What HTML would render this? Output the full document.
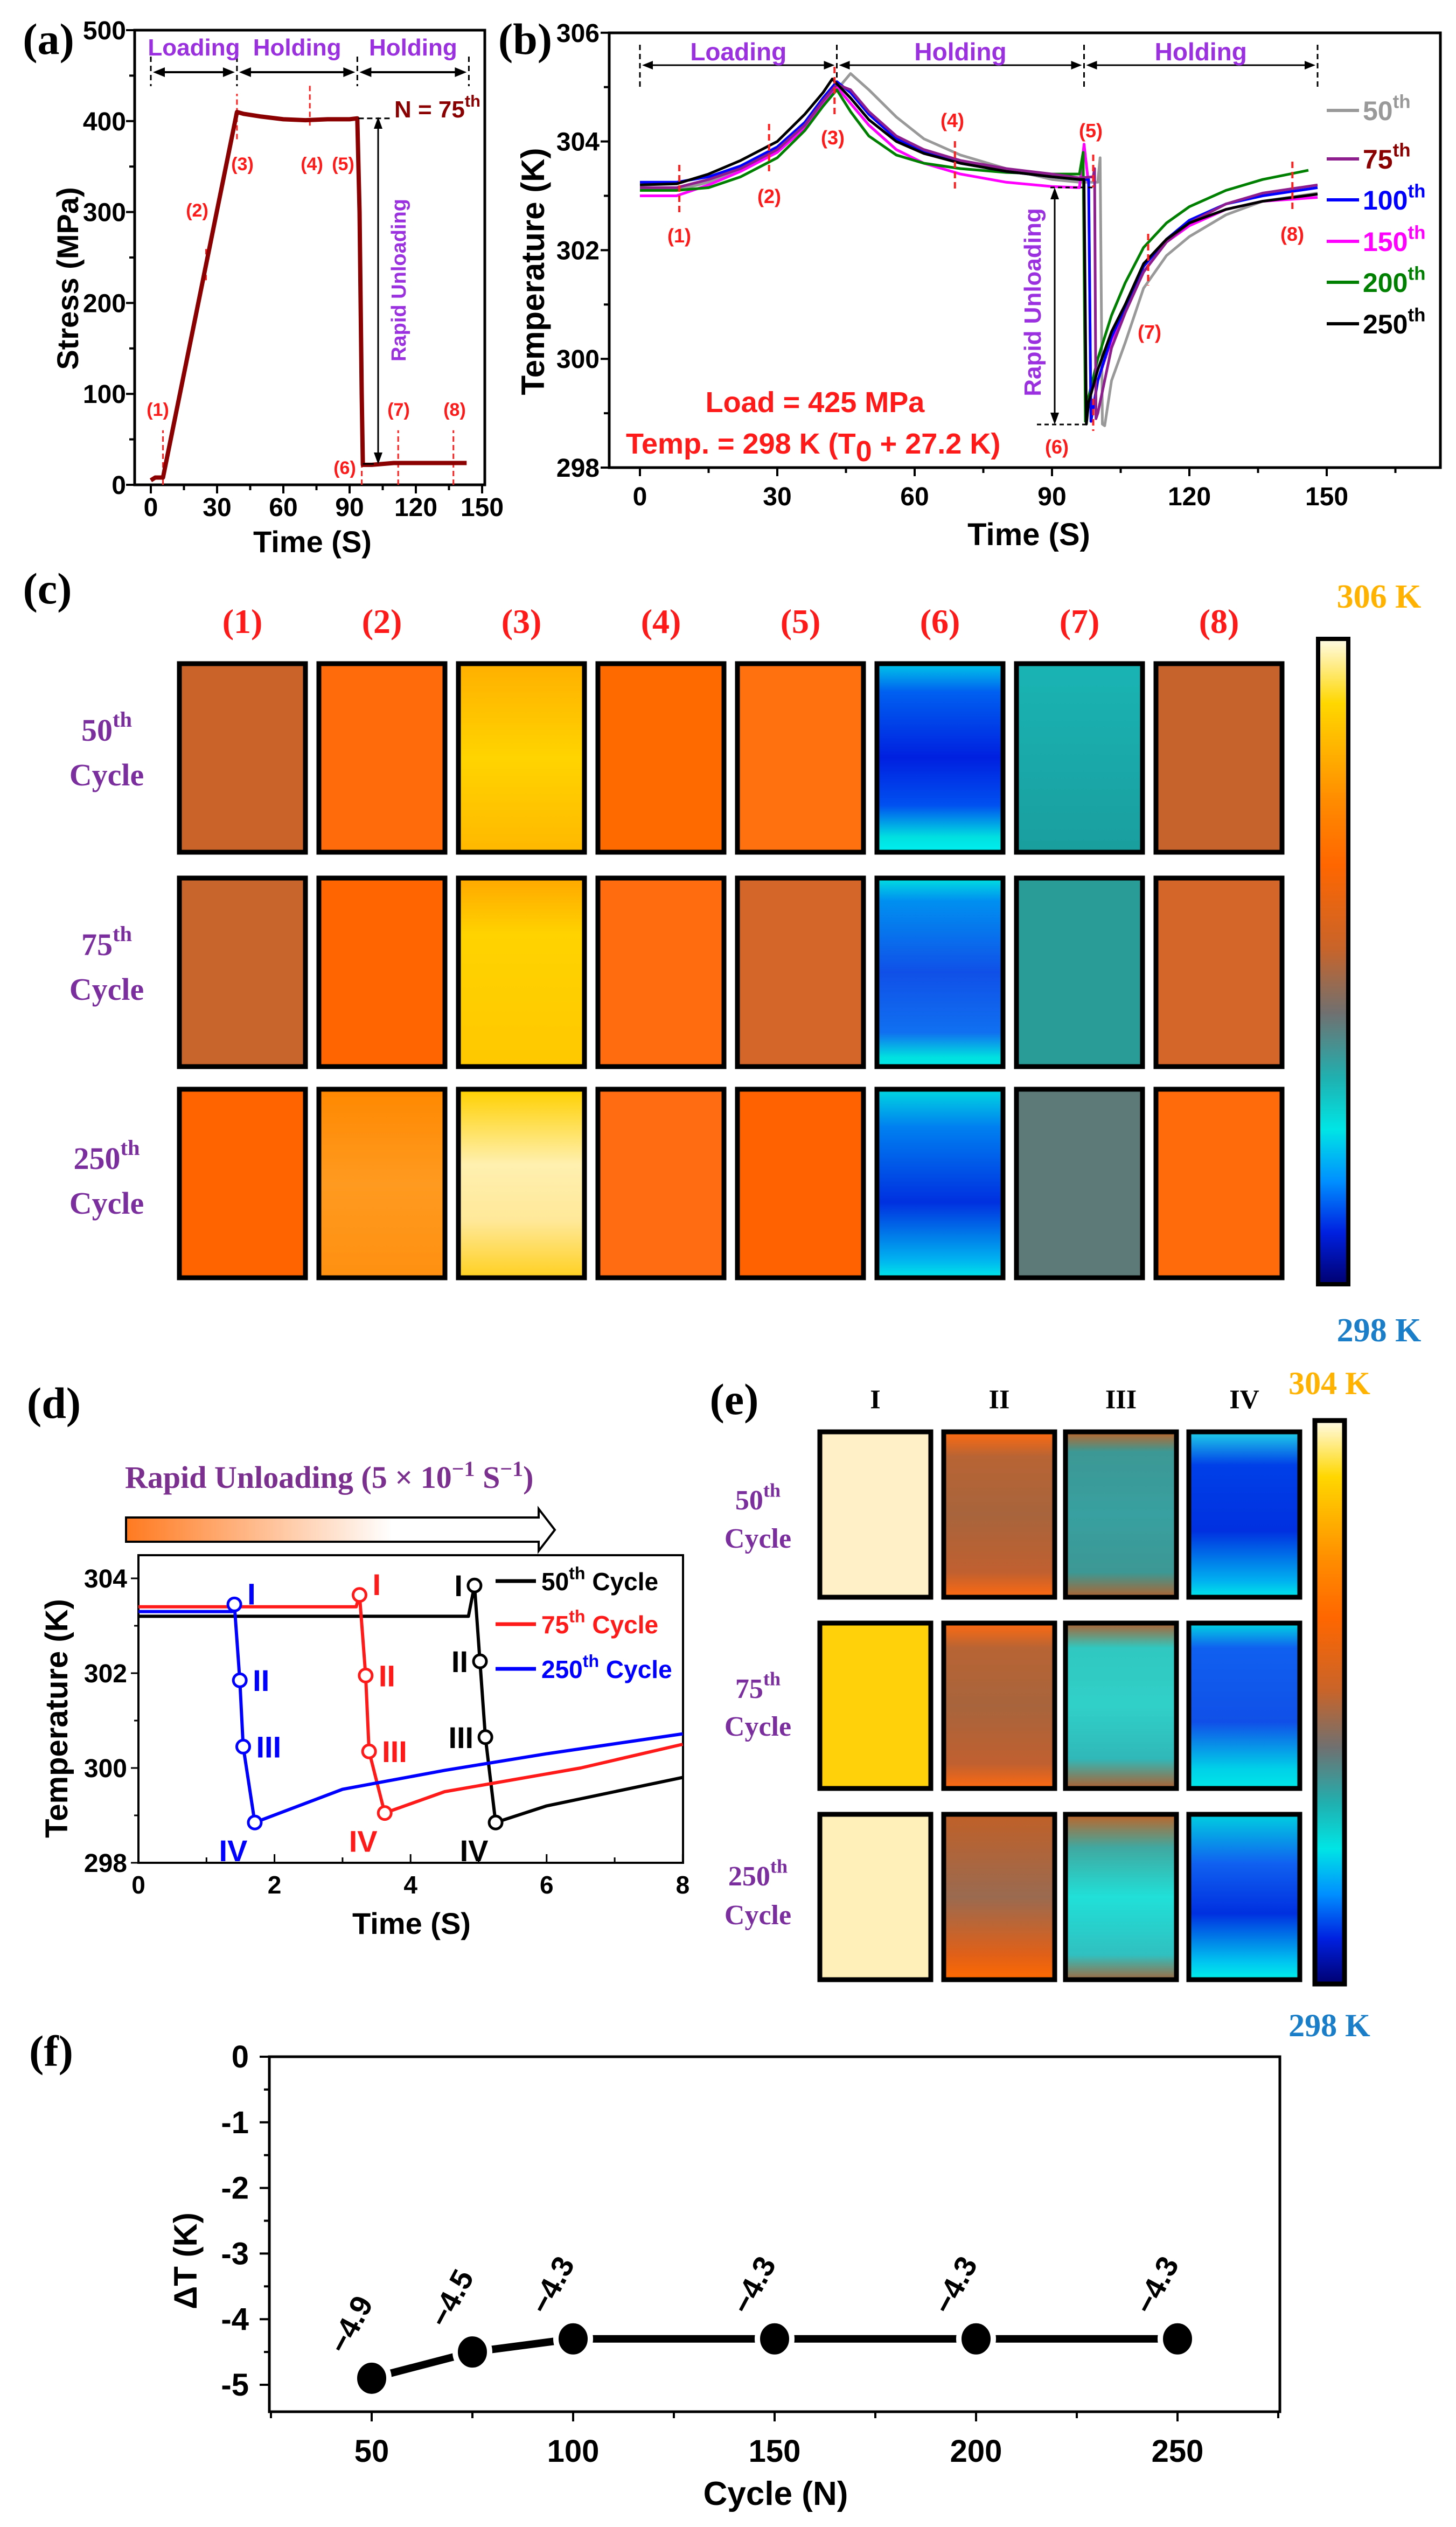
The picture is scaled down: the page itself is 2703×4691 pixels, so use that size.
<!DOCTYPE html>
<html><head><meta charset="utf-8"><title>Figure</title>
<style>
html,body{margin:0;padding:0;background:#fff;}
svg{display:block;}
.ax{font-family:"Liberation Sans",Arial,sans-serif;font-weight:bold;}
.tm{font-family:"Liberation Serif","Times New Roman",serif;font-weight:bold;}
</style></head>
<body>
<svg id="fig" xmlns="http://www.w3.org/2000/svg" width="2703" height="4691" viewBox="0 0 2703 4691">
<defs>
<linearGradient id="cbar" x1="0" y1="0" x2="0" y2="1">
<stop offset="0" stop-color="#fffbe6"/><stop offset="0.1" stop-color="#ffd700"/><stop offset="0.25" stop-color="#ff8c00"/><stop offset="0.35" stop-color="#ff6600"/><stop offset="0.48" stop-color="#c8642a"/><stop offset="0.58" stop-color="#707070"/><stop offset="0.68" stop-color="#20b0b0"/><stop offset="0.76" stop-color="#00e5e5"/><stop offset="0.84" stop-color="#0090ff"/><stop offset="0.92" stop-color="#0020e0"/><stop offset="1" stop-color="#000070"/>
</linearGradient>
<linearGradient id="arrowGrad" x1="0" y1="0" x2="1" y2="0">
<stop offset="0" stop-color="#ff7a20"/><stop offset="0.62" stop-color="#ffffff"/><stop offset="1" stop-color="#ffffff"/>
</linearGradient>
</defs>

<!-- Panel labels -->
<text class="tm" x="90" y="100" font-size="82" text-anchor="middle">(a)</text>
<text class="tm" x="975" y="100" font-size="82" text-anchor="middle">(b)</text>
<text class="tm" x="88" y="1120" font-size="82" text-anchor="middle">(c)</text>
<text class="tm" x="100" y="2632" font-size="82" text-anchor="middle">(d)</text>
<text class="tm" x="1363" y="2625" font-size="82" text-anchor="middle">(e)</text>
<text class="tm" x="95" y="3835" font-size="82" text-anchor="middle">(f)</text>

<g id="pa"></g>
<g id="pb"></g>
<g id="pc"></g>
<g id="pd"></g>
<g id="pe"></g>
<g id="pf"></g>
</svg>

<script>
// ---------- data (a) ----------
const stressTime = [0,2,4,5.5,10,20,30,39,42,50,60,70,80,90,93.5,94.5,95.5,96,100,110,120,130,143];
const stressVal  = [5,8,8,8,62,182,302,410,408,405,402,401,402,402,403,300,100,22,22,24,24,24,24];
const aXTicks = [0,30,60,90,120,150];
const aYTicks = [0,100,200,300,400,500];
// ---------- data (b) ----------
const t50  = [0,8,15,22,30,36,40,43,46,50,56,62,70,80,90,96,100,100.5,101,101.5,103,106,110,115,120,128,136,148];
const v50  = [303.1,303.1,303.25,303.5,303.85,304.3,304.7,304.95,305.25,304.95,304.45,304.05,303.75,303.5,303.3,303.25,303.25,303.7,298.8,298.77,299.6,300.3,301.3,301.9,302.25,302.65,302.9,303.05];
const t75  = [0,8,15,22,30,36,40,43,46,50,56,62,70,80,90,96,99,99.3,99.6,100,103,106,110,115,120,128,136,148];
const v75  = [303.15,303.15,303.3,303.5,303.85,304.3,304.75,305.05,304.95,304.55,304.1,303.85,303.65,303.5,303.4,303.33,303.35,303.5,298.9,299.0,300.2,300.85,301.6,302.15,302.5,302.85,303.05,303.2];
const t100 = [0,8,15,22,30,36,40,43,46,50,56,62,70,80,90,96,98,98.5,99,100,103,106,110,115,120,128,136,148];
const v100 = [303.25,303.25,303.35,303.55,303.9,304.35,304.8,305.1,304.9,304.5,304.05,303.8,303.6,303.45,303.35,303.3,303.3,298.85,299.1,299.6,300.4,300.95,301.7,302.2,302.55,302.85,303.0,303.15];
const t150 = [0,8,15,22,30,36,40,43,46,50,56,62,70,80,90,96,97,98,98.5,99,100,103,106,110,115,120,128,136,148];
const v150 = [303.0,303.0,303.2,303.45,303.8,304.25,304.7,305.0,304.7,304.3,303.85,303.6,303.4,303.25,303.17,303.15,303.95,303.2,298.9,299.1,299.6,300.35,300.9,301.6,302.15,302.45,302.75,302.9,302.97];
const t200 = [0,8,15,22,30,36,40,43,46,50,56,62,70,80,90,96,96.8,97.3,98,100,103,106,110,115,120,128,136,146];
const v200 = [303.1,303.1,303.15,303.35,303.7,304.2,304.65,304.95,304.55,304.1,303.75,303.6,303.5,303.43,303.4,303.4,303.8,298.85,299.3,300.0,300.8,301.4,302.05,302.5,302.8,303.1,303.3,303.47];
const t250 = [0,8,15,22,30,36,40,42,46,50,56,62,70,80,90,96,97,97.5,98,100,103,106,110,115,120,128,136,148];
const v250 = [303.2,303.22,303.4,303.65,304.0,304.5,304.9,305.15,304.8,304.4,304.0,303.78,303.6,303.45,303.35,303.3,303.3,298.8,299.2,299.8,300.5,301.0,301.75,302.2,302.5,302.75,302.9,303.03];
const bXTicks = [0,30,60,90,120,150];
const bYTicks = [298,300,302,304,306];
const bSeriesNames = ["50th","75th","100th","150th","200th","250th"];
// ---------- data (d) ----------
const dT50  = [0,4.85,4.94,5.02,5.1,5.25,6,7,8];
const dV50  = [303.2,303.2,303.85,302.25,300.65,298.85,299.2,299.5,299.8];
const dT75  = [0,3.2,3.25,3.34,3.39,3.62,4.5,5.5,6.5,8];
const dV75  = [303.4,303.4,303.65,301.95,300.35,299.05,299.5,299.75,300.0,300.5];
const dT250 = [0,1.38,1.41,1.49,1.54,1.71,3,4.5,6,8];
const dV250 = [303.3,303.3,303.45,301.85,300.45,298.85,299.55,299.95,300.3,300.72];
const dXTicks = [0,2,4,6,8];
const dYTicks = [298,300,302,304];
const stageLabels = ["I","II","III","IV"];
// ---------- data (f) ----------
const fCycles = [50,75,100,150,200,250];
const fDeltaT = [-4.9,-4.5,-4.3,-4.3,-4.3,-4.3];
const fXTicks = [50,100,150,200,250];
const fYTicks = [0,-1,-2,-3,-4,-5];

const NS = "http://www.w3.org/2000/svg";
function mk(parent, tag, attrs, txt){
  const e = document.createElementNS(NS, tag);
  for (const k in attrs) e.setAttribute(k, attrs[k]);
  if (txt !== undefined) e.textContent = txt;
  parent.appendChild(e);
  return e;
}
function pathFrom(xs, ys, fx, fy){
  let d = "";
  for (let i=0;i<xs.length;i++) d += (i?"L":"M") + fx(xs[i]).toFixed(1) + "," + fy(ys[i]).toFixed(1);
  return d;
}
function sup(el, base, s, fs){
  const t1 = document.createElementNS(NS,"tspan"); t1.textContent = base; el.appendChild(t1);
  const t2 = document.createElementNS(NS,"tspan"); t2.textContent = s;
  t2.setAttribute("dy", -fs*0.45); t2.setAttribute("font-size", fs*0.7); el.appendChild(t2);
}

// ================= Panel (a) =================
(function(){
  const g = document.getElementById("pa");
  const xa = t => 280 + t*4.1;
  const ya = s => 900 - s*1.688;
  let e;
  e = mk(g,"rect",{x:250,y:56,width:650,height:844,fill:"none",stroke:"#000","stroke-width":5});
  
  
  for (const t of aXTicks){
    e = mk(g,"line",{x1:xa(t),y1:900,x2:xa(t),y2:916,stroke:"#000","stroke-width":4});
    
    
    e = mk(g,"text",{x:xa(t),y:958,"font-size":48,"text-anchor":"middle",class:"ax"},String(t));
    
    
    if (t<150){
      e = mk(g,"line",{x1:xa(t+15),y1:900,x2:xa(t+15),y2:910,stroke:"#000","stroke-width":4});
      
      
    }
  }
  for (const s of aYTicks){
    e = mk(g,"line",{x1:234,y1:ya(s),x2:250,y2:ya(s),stroke:"#000","stroke-width":4});
    
    
    e = mk(g,"text",{x:234,y:ya(s)+17,"font-size":48,"text-anchor":"end",class:"ax"},String(s));
    
    
    if (s<500){
      e = mk(g,"line",{x1:240,y1:ya(s+50),x2:250,y2:ya(s+50),stroke:"#000","stroke-width":4});
      
      
    }
  }
  e = mk(g,"text",{x:580,y:1025,"font-size":56,"text-anchor":"middle",class:"ax"},"Time (S)");
  
  
  e = mk(g,"text",{x:0,y:0,"font-size":56,"text-anchor":"middle",class:"ax",transform:"translate(145,517) rotate(-90)"},"Stress (MPa)");
  
  
  // phases
  const phaseT = [0,39,93.5,144];
  const phaseN = ["Loading","Holding","Holding"];
  for (let i=0;i<phaseT.length;i++){
    e = mk(g,"line",{x1:xa(phaseT[i]),y1:105,x2:xa(phaseT[i]),y2:160,stroke:"#000","stroke-width":3,"stroke-dasharray":"10,7"});
    
    
  }
  for (let i=0;i<3;i++){
    const x1 = xa(phaseT[i])+4, x2 = xa(phaseT[i+1])-4;
    e = mk(g,"line",{x1:x1+14,y1:134,x2:x2-14,y2:134,stroke:"#000","stroke-width":4});
    
    
    e = mk(g,"path",{d:`M${x1},134 l22,-9 v18 z M${x2},134 l-22,-9 v18 z`,fill:"#000"});
    
    
    e = mk(g,"text",{x:(xa(phaseT[i])+xa(phaseT[i+1]))/2,y:103,"font-size":44,"text-anchor":"middle",class:"ax",fill:"#9b30e0"},phaseN[i]);
    
    
  }
  // marker lines
  const mkT = [5.5,25,39,72,93.5,95.5,112,137];
  const mkY = [[0,60],[225,260],[380,430],[395,440],[0,0],[0,30],[0,60],[0,60]];
  for (let i=0;i<mkT.length;i++){
    if (mkY[i][1]===0) continue;
    e = mk(g,"line",{x1:xa(mkT[i]),y1:ya(mkY[i][0]),x2:xa(mkT[i]),y2:ya(mkY[i][1]),stroke:"#ff2020","stroke-width":3,"stroke-dasharray":"10,6"});
    
    
  }
  e = mk(g,"path",{d:pathFrom(stressTime,stressVal,xa,ya),fill:"none",stroke:"#8b0000","stroke-width":8,"stroke-linejoin":"round"});
  
  
  const lbl = [["(1)",293,772],["(2)",366,402],["(3)",450,316],["(4)",579,316],["(5)",637,316],["(6)",640,880],["(7)",740,772],["(8)",844,772]];
  for (const L of lbl){
    e = mk(g,"text",{x:L[1],y:L[2],"font-size":34,"text-anchor":"middle",class:"ax",fill:"#ff1a1a"},L[0]);
    
    
  }
  e = mk(g,"line",{x1:xa(94),y1:ya(403),x2:725,y2:ya(403),stroke:"#000","stroke-width":3,"stroke-dasharray":"10,6"});
  
  
  e = mk(g,"line",{x1:xa(96),y1:ya(23),x2:xa(101),y2:ya(23),stroke:"#000","stroke-width":3});
  
  
  e = mk(g,"line",{x1:702,y1:235,x2:702,y2:845,stroke:"#000","stroke-width":3});
  
  
  e = mk(g,"path",{d:"M702,217 l-8,22 h16 z M702,862 l-8,-22 h16 z",fill:"#000"});
  
  
  e = mk(g,"text",{x:732,y:218,"font-size":44,class:"ax",fill:"#8b0000"});
  sup(e,"N = 75","th",44);
  
  
  e = mk(g,"text",{x:0,y:0,"font-size":38,"text-anchor":"middle",class:"ax",fill:"#9b30e0",transform:"translate(753,520) rotate(-90)"},"Rapid Unloading");
  
  
})();

// ================= Panel (b) =================
(function(){
  const g = document.getElementById("pb");
  const xb = t => 1188 + t*8.5;
  const yb = T => 868 - (T-298)*100.9;
  let e;
  e = mk(g,"rect",{x:1131,y:61,width:1543,height:807,fill:"none",stroke:"#000","stroke-width":5});
  
  
  for (const t of bXTicks){
    e = mk(g,"line",{x1:xb(t),y1:868,x2:xb(t),y2:884,stroke:"#000","stroke-width":4});
    
    
    e = mk(g,"text",{x:xb(t),y:938,"font-size":48,"text-anchor":"middle",class:"ax"},String(t));
    
    
    e = mk(g,"line",{x1:xb(t+15),y1:868,x2:xb(t+15),y2:878,stroke:"#000","stroke-width":4});
    
    
  }
  for (const T of bYTicks){
    e = mk(g,"line",{x1:1115,y1:yb(T),x2:1131,y2:yb(T),stroke:"#000","stroke-width":4});
    
    
    e = mk(g,"text",{x:1113,y:yb(T)+17,"font-size":48,"text-anchor":"end",class:"ax"},String(T));
    
    
    if (T<306){
      e = mk(g,"line",{x1:1121,y1:yb(T+1),x2:1131,y2:yb(T+1),stroke:"#000","stroke-width":4});
      
      
    }
  }
  e = mk(g,"text",{x:1910,y:1012,"font-size":58,"text-anchor":"middle",class:"ax"},"Time (S)");
  
  
  e = mk(g,"text",{x:0,y:0,"font-size":60,"text-anchor":"middle",class:"ax",transform:"translate(1010,504) rotate(-90)"},"Temperature (K)");
  
  
  const phaseT = [0,43,97,148];
  const phaseN = ["Loading","Holding","Holding"];
  for (let i=0;i<phaseT.length;i++){
    e = mk(g,"line",{x1:xb(phaseT[i]),y1:83,x2:xb(phaseT[i]),y2:163,stroke:"#000","stroke-width":3,"stroke-dasharray":"10,7"});
    
    
  }
  for (let i=0;i<3;i++){
    const x1 = xb(phaseT[i])+4, x2 = xb(phaseT[i+1])-4;
    e = mk(g,"line",{x1:x1+14,y1:121,x2:x2-14,y2:121,stroke:"#000","stroke-width":3});
    
    
    e = mk(g,"path",{d:`M${x1},121 l20,-8 v16 z M${x2},121 l-20,-8 v16 z`,fill:"#000"});
    
    
    e = mk(g,"text",{x:(xb(phaseT[i])+xb(phaseT[i+1]))/2,y:112,"font-size":46,"text-anchor":"middle",class:"ax",fill:"#9b30e0"},phaseN[i]);
    
    
  }
  const series = [[t50,v50,"#999999"],[t75,v75,"#8e1d8e"],[t100,v100,"#0000ff"],[t150,v150,"#ff00ff"],[t200,v200,"#008000"],[t250,v250,"#000000"]];
  const order = [0,3,4,2,1,5];
  for (const i of order){
    e = mk(g,"path",{d:pathFrom(series[i][0],series[i][1],xb,yb),fill:"none",stroke:series[i][2],"stroke-width":5,"stroke-linejoin":"round"});
    
    
  }
  // markers
  const mkT = [8.6,28.2,42.5,68.8,99,99,111,142.5];
  const mkY = [[306,396],[230,322],[124,214],[262,351],[287,348],[740,800],[434,530],[300,389]];
  for (let i=0;i<mkT.length;i++){
    e = mk(g,"line",{x1:xb(mkT[i]),y1:mkY[i][0],x2:xb(mkT[i]),y2:mkY[i][1],stroke:"#ff2020","stroke-width":4,"stroke-dasharray":"12,7"});
    
    
  }
  const lbl = [["(1)",1261,450],["(2)",1428,377],["(3)",1546,268],["(4)",1768,236],["(5)",2025,255],["(6)",1962,842],["(7)",2134,629],["(8)",2399,447]];
  for (const L of lbl){
    e = mk(g,"text",{x:L[1],y:L[2],"font-size":36,"text-anchor":"middle",class:"ax",fill:"#ff1a1a"},L[0]);
    
    
  }
  // legend
  const lc = ["#999999","#8e1d8e","#0000ff","#ff00ff","#008000","#000000"];
  const tc = ["#999999","#8b0000","#0000ff","#ff00ff","#008000","#000000"];
  const ly = [205,295,371,448,524,601];
  for (let i=0;i<6;i++){
    e = mk(g,"line",{x1:2463,y1:ly[i],x2:2523,y2:ly[i],stroke:lc[i],"stroke-width":6});
    
    
    e = mk(g,"text",{x:2530,y:ly[i]+18,"font-size":50,class:"ax",fill:tc[i]});
    sup(e,bSeriesNames[i].replace("th",""),"th",50);
    
    
  }
  e = mk(g,"text",{x:1513,y:765,"font-size":54,"text-anchor":"middle",class:"ax",fill:"#ff1a1a"},"Load = 425 MPa");
  
  
  e = mk(g,"text",{x:1162,y:842,"font-size":54,class:"ax",fill:"#ff1a1a"});
  const a1 = document.createElementNS(NS,"tspan"); a1.textContent="Temp. = 298 K (T"; e.appendChild(a1);
  const a2 = document.createElementNS(NS,"tspan"); a2.textContent="0"; a2.setAttribute("dy","14"); e.appendChild(a2);
  const a3 = document.createElementNS(NS,"tspan"); a3.textContent=" + 27.2 K)"; a3.setAttribute("dy","-14"); e.appendChild(a3);
  
  
  e = mk(g,"text",{x:0,y:0,"font-size":44,"text-anchor":"middle",class:"ax",fill:"#9b30e0",transform:"translate(1932,561) rotate(-90)"},"Rapid Unloading");
  
  
  e = mk(g,"line",{x1:1958,y1:366,x2:1958,y2:770,stroke:"#000","stroke-width":3});
  
  
  e = mk(g,"path",{d:"M1958,348 l-8,22 h16 z M1958,788 l-8,-22 h16 z",fill:"#000"});
  
  
  e = mk(g,"path",{d:"M1950,348 H2030 M1925,788 H2020",stroke:"#000","stroke-width":3,"stroke-dasharray":"8,6",fill:"none"});
  
  
})();

// ================= Heatmap helpers =================
let gradId = 0;
function cell(g, x, y, w, h, stops, name){
  let fill;
  if (typeof stops === "string") fill = stops;
  else {
    const id = "cg"+(gradId++);
    const defs = document.querySelector("defs");
    const lg = mk(defs,"linearGradient",{id:id,x1:0,y1:0,x2:0,y2:1});
    for (const s of stops) mk(lg,"stop",{offset:s[0],"stop-color":s[1]});
    fill = "url(#"+id+")";
  }
  const e = mk(g,"rect",{x:x,y:y,width:w,height:h,fill:fill,stroke:"#000","stroke-width":9});
  
  
}

// ================= Panel (c) =================
(function(){
  const g = document.getElementById("pc");
  let e;
  const cx = [333,592,851,1110,1369,1628,1887,2146];
  const ry = [1232,1630,2022];
  const colLbl = ["(1)","(2)","(3)","(4)","(5)","(6)","(7)","(8)"];
  for (let i=0;i<8;i++){
    e = mk(g,"text",{x:cx[i]+117,y:1175,"font-size":64,"text-anchor":"middle",class:"tm",fill:"#ff1a1a"},colLbl[i]);
    
    
  }
  const rowN = ["50","75","250"];
  const rowY = [[1375,1458],[1773,1856],[2170,2253]];
  for (let r=0;r<3;r++){
    e = mk(g,"text",{x:198,y:rowY[r][0],"font-size":58,"text-anchor":"middle",class:"tm",fill:"#7b2f9e"});
    sup(e,rowN[r],"th",58);
    
    
    e = mk(g,"text",{x:198,y:rowY[r][1],"font-size":58,"text-anchor":"middle",class:"tm",fill:"#7b2f9e"},"Cycle");
    
    
  }
  const blue1 = [[0,"#00c8e8"],[0.15,"#0060f0"],[0.5,"#0020e0"],[0.75,"#0050f0"],[0.92,"#00e0e0"],[1,"#00f0f0"]];
  const blue2 = [[0,"#00e0e0"],[0.12,"#0090f0"],[0.5,"#1050e8"],[0.82,"#1070f0"],[0.95,"#00e0e0"],[1,"#00e8e8"]];
  const blue3 = [[0,"#00d8e0"],[0.2,"#0080f0"],[0.6,"#0030e0"],[0.9,"#00b0f0"],[1,"#00e8e8"]];
  const cols = [
    ["#c9632a","#ff6a0a",[[0,"#ffb000"],[0.5,"#ffd400"],[1,"#ffb800"]],"#ff6a00","#ff700e",blue1,[[0,"#1ab4b4"],[1,"#1a9e9e"]],"#c6622c"],
    ["#c8652c","#ff6500",[[0,"#ffa800"],[0.3,"#ffd300"],[1,"#ffc800"]],"#ff6c10","#d4662a",blue2,"#2a9c98","#d4662a"],
    ["#ff6400",[[0,"#ff8800"],[0.5,"#ff9a20"],[1,"#ff9010"]],[[0,"#ffd000"],[0.4,"#fff0b0"],[0.7,"#ffe898"],[1,"#ffd020"]],"#ff6c12","#ff6200",blue3,"#5e7a78","#ff6a0a"]
  ];
  for (let r=0;r<3;r++) for (let c=0;c<8;c++) cell(g,cx[c],ry[r],234,350,cols[r][c],"thermal-image-c-r"+(r+1)+"-s"+(c+1));
  e = mk(g,"rect",{x:2447,y:1186,width:56,height:1198,fill:"url(#cbar)",stroke:"#000","stroke-width":8});
  
  
  e = mk(g,"text",{x:2560,y:1128,"font-size":62,"text-anchor":"middle",class:"tm",fill:"#ffb300"},"306 K");
  
  
  e = mk(g,"text",{x:2560,y:2490,"font-size":62,"text-anchor":"middle",class:"tm",fill:"#1a7ec8"},"298 K");
  
  
})();

// ================= Panel (d) =================
(function(){
  const g = document.getElementById("pd");
  const xd = t => 257 + t*126.3;
  const yd = T => 3458 - (T-298)*88;
  let e;
  e = mk(g,"text",{x:232,y:2762,"font-size":58,class:"tm",fill:"#7b2f8e"},"Rapid Unloading (5 × 10");
  const s1 = document.createElementNS(NS,"tspan"); s1.textContent="−1"; s1.setAttribute("dy","-22"); s1.setAttribute("font-size","40"); e.appendChild(s1);
  const s2 = document.createElementNS(NS,"tspan"); s2.textContent="  S"; s2.setAttribute("dy","22"); e.appendChild(s2);
  const s3 = document.createElementNS(NS,"tspan"); s3.textContent="−1"; s3.setAttribute("dy","-22"); s3.setAttribute("font-size","40"); e.appendChild(s3);
  const s4 = document.createElementNS(NS,"tspan"); s4.textContent=")"; s4.setAttribute("dy","22"); e.appendChild(s4);
  
  
  e = mk(g,"path",{d:"M234,2817 H1000 V2801 L1030,2840 L1000,2879 V2862 H234 Z",fill:"url(#arrowGrad)",stroke:"#000","stroke-width":4});
  
  
  e = mk(g,"rect",{x:257,y:2887,width:1011,height:571,fill:"none",stroke:"#000","stroke-width":4});
  
  
  for (const t of dXTicks){
    e = mk(g,"line",{x1:xd(t),y1:3458,x2:xd(t),y2:3442,stroke:"#000","stroke-width":3});
    
    
    e = mk(g,"text",{x:xd(t),y:3515,"font-size":46,"text-anchor":"middle",class:"ax"},String(t));
    
    
    if (t<8){
      e = mk(g,"line",{x1:xd(t+1),y1:3458,x2:xd(t+1),y2:3448,stroke:"#000","stroke-width":3});
      
      
    }
  }
  for (const T of dYTicks){
    e = mk(g,"line",{x1:243,y1:yd(T),x2:257,y2:yd(T),stroke:"#000","stroke-width":3});
    
    
    e = mk(g,"text",{x:236,y:yd(T)+17,"font-size":48,"text-anchor":"end",class:"ax"},String(T));
    
    
    if (T<304){
      e = mk(g,"line",{x1:249,y1:yd(T+1),x2:257,y2:yd(T+1),stroke:"#000","stroke-width":3});
      
      
    }
  }
  e = mk(g,"text",{x:764,y:3590,"font-size":56,"text-anchor":"middle",class:"ax"},"Time (S)");
  
  
  e = mk(g,"text",{x:0,y:0,"font-size":58,"text-anchor":"middle",class:"ax",transform:"translate(125,3190) rotate(-90)"},"Temperature (K)");
  
  
  const ser = [[dT50,dV50,"#000000","50th",-1],[dT75,dV75,"#ff1a1a","75th",1],[dT250,dV250,"#0000ff","250th",1]];
  for (const s of ser){
    e = mk(g,"path",{d:pathFrom(s[0],s[1],xd,yd),fill:"none",stroke:s[2],"stroke-width":6,"stroke-linejoin":"round"});
    
    
    for (let k=0;k<4;k++){
      const px = xd(s[0][k+2]), py = yd(s[1][k+2]);
      e = mk(g,"circle",{cx:px,cy:py,r:12,fill:"#fff",stroke:s[2],"stroke-width":5});
      
      
      let lx, ly, anchor;
      if (k===3){ lx = px-40; ly = py+72; anchor="middle"; }
      else if (s[4]<0){ lx = px-22; ly = py+20; anchor="end"; }
      else { lx = px+24; ly = py+(k===0?0:20); anchor="start"; }
      e = mk(g,"text",{x:lx,y:ly,"font-size":56,"text-anchor":anchor,class:"ax",fill:s[2]},stageLabels[k]);
      
      
    }
  }
  const legC = ["#000000","#ff1a1a","#0000ff"];
  const legN = ["50","75","250"];
  const legY = [2935,3015,3098];
  for (let i=0;i<3;i++){
    e = mk(g,"line",{x1:920,y1:legY[i],x2:995,y2:legY[i],stroke:legC[i],"stroke-width":7});
    
    
    e = mk(g,"text",{x:1005,y:legY[i]+17,"font-size":46,class:"ax",fill:legC[i]});
    sup(e,legN[i],"th",46);
    const t3 = document.createElementNS(NS,"tspan"); t3.textContent=" Cycle"; t3.setAttribute("dy",46*0.45); e.appendChild(t3);
    
    
  }
})();

// ================= Panel (e) =================
(function(){
  const g = document.getElementById("pe");
  let e;
  const cx = [1522,1752,1978,2207];
  const ry = [2658,3013,3368];
  const colL = ["I","II","III","IV"];
  for (let i=0;i<4;i++){
    e = mk(g,"text",{x:cx[i]+103,y:2614,"font-size":50,"text-anchor":"middle",class:"tm"},colL[i]);
    
    
  }
  const rowN = ["50","75","250"];
  const rowY = [[2802,2873],[3152,3222],[3500,3572]];
  for (let r=0;r<3;r++){
    e = mk(g,"text",{x:1407,y:rowY[r][0],"font-size":52,"text-anchor":"middle",class:"tm",fill:"#7b2f9e"});
    sup(e,rowN[r],"th",52);
    
    
    e = mk(g,"text",{x:1407,y:rowY[r][1],"font-size":52,"text-anchor":"middle",class:"tm",fill:"#7b2f9e"},"Cycle");
    
    
  }
  const II = [[0,"#ff6a10"],[0.15,"#b86434"],[0.5,"#a8643c"],[0.85,"#c06030"],[1,"#ff6a10"]];
  const cols = [
    ["#fff0c8",II,[[0,"#c06428"],[0.12,"#3c9894"],[0.5,"#38a0a0"],[0.85,"#3c9894"],[1,"#b06430"]],[[0,"#20d0e8"],[0.2,"#0040e8"],[0.6,"#0030e0"],[0.9,"#00b0f0"],[1,"#00e8e8"]]],
    ["#ffd10a",II,[[0,"#b06030"],[0.15,"#30c8c0"],[0.5,"#30d0c8"],[0.82,"#30b8b8"],[1,"#b06030"]],[[0,"#00d8e0"],[0.15,"#1060f0"],[0.6,"#1050e8"],[0.88,"#00d0e8"],[1,"#00e8e8"]]],
    ["#ffefb8",[[0,"#c06028"],[0.5,"#9a6a50"],[0.85,"#e06018"],[1,"#ff6a00"]],[[0,"#c06428"],[0.2,"#40a8a0"],[0.5,"#20e0d8"],[0.85,"#30c0c0"],[1,"#a06a40"]],[[0,"#00d0e0"],[0.3,"#1060f0"],[0.6,"#0030e0"],[0.9,"#00c8f0"],[1,"#00f0e8"]]]
  ];
  for (let r=0;r<3;r++) for (let c=0;c<4;c++) cell(g,cx[c],ry[r],206,307,cols[r][c],"thermal-image-e-r"+(r+1)+"-"+colL[c]);
  e = mk(g,"rect",{x:2441,y:2637,width:55,height:1046,fill:"url(#cbar)",stroke:"#000","stroke-width":9});
  
  
  e = mk(g,"text",{x:2468,y:2588,"font-size":60,"text-anchor":"middle",class:"tm",fill:"#ffb300"},"304 K");
  
  
  e = mk(g,"text",{x:2468,y:3780,"font-size":60,"text-anchor":"middle",class:"tm",fill:"#1a7ec8"},"298 K");
  
  
})();

// ================= Panel (f) =================
(function(){
  const g = document.getElementById("pf");
  const xf = c => 690 + (c-50)*7.48;
  const yf = v => 3818 - v*121.8;
  let e;
  e = mk(g,"rect",{x:500,y:3818,width:1876,height:659,fill:"none",stroke:"#000","stroke-width":5});
  
  
  for (let c=25;c<=275;c+=25){
    const major = fXTicks.indexOf(c)>=0;
    e = mk(g,"line",{x1:xf(c),y1:4477,x2:xf(c),y2:4477+(major?18:12),stroke:"#000","stroke-width":4});
    
    
  }
  for (const c of fXTicks){
    e = mk(g,"text",{x:xf(c),y:4570,"font-size":58,"text-anchor":"middle",class:"ax"},String(c));
    
    
  }
  for (const v of fYTicks){
    e = mk(g,"line",{x1:482,y1:yf(v),x2:500,y2:yf(v),stroke:"#000","stroke-width":4});
    
    
    e = mk(g,"text",{x:462,y:yf(v)+20,"font-size":58,"text-anchor":"end",class:"ax"},v===0?"0":"-"+Math.abs(v));
    
    
    if (v>-5){
      e = mk(g,"line",{x1:490,y1:yf(v-0.5),x2:500,y2:yf(v-0.5),stroke:"#000","stroke-width":4});
      
      
    }
  }
  e = mk(g,"text",{x:1440,y:4650,"font-size":62,"text-anchor":"middle",class:"ax"},"Cycle (N)");
  
  
  e = mk(g,"text",{x:0,y:0,"font-size":60,"text-anchor":"middle",class:"ax",transform:"translate(365,4197) rotate(-90)"},"ΔT (K)");
  
  
  e = mk(g,"path",{d:pathFrom(fCycles,fDeltaT,xf,yf),fill:"none",stroke:"#000","stroke-width":14});
  
  
  for (let i=0;i<fCycles.length;i++){
    const px = xf(fCycles[i]), py = yf(fDeltaT[i]);
    e = mk(g,"ellipse",{cx:px,cy:py,rx:32,ry:34,fill:"#000",stroke:"#fff","stroke-width":10});
    
    
    e = mk(g,"text",{x:0,y:0,"font-size":56,class:"ax",transform:`translate(${px-48},${py-42}) rotate(-62)`},"−"+Math.abs(fDeltaT[i]).toFixed(1));
    
    
  }
})();
</script>
</body></html>
